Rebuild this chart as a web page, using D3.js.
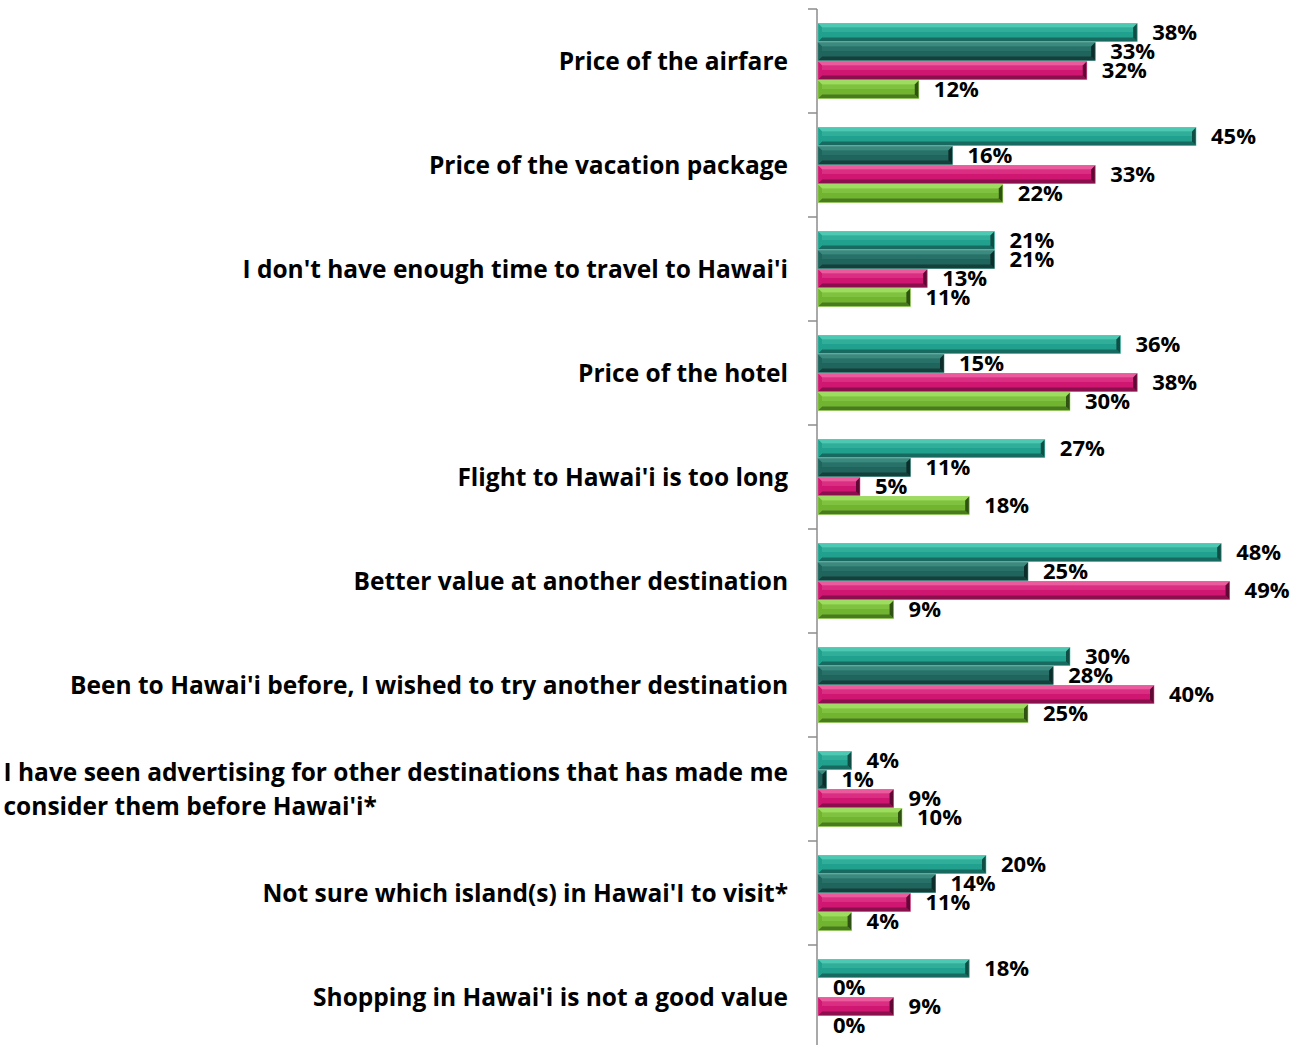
<!DOCTYPE html>
<html><head><meta charset="utf-8">
<script src="https://cdn.jsdelivr.net/npm/d3@7"></script>
<style>
body{margin:0;background:#fff;}
text{font-family:"Open Sans",sans-serif;font-weight:700;fill:#000;}
</style></head>
<body><svg id="c" width="1293" height="1045"></svg>
<script>
const categories = [
  "Price of the airfare",
  "Price of the vacation package",
  "I don't have enough time to travel to Hawai'i",
  "Price of the hotel",
  "Flight to Hawai'i is too long",
  "Better value at another destination",
  "Been to Hawai'i before, I wished to try another destination",
  "I have seen advertising for other destinations that has made me consider them before Hawai'i*",
  "Not sure which island(s) in Hawai'I to visit*",
  "Shopping in Hawai'i is not a good value"
];
const series1 = [38, 45, 21, 36, 27, 48, 30, 4, 20, 18];
const series2 = [33, 16, 21, 15, 11, 25, 28, 1, 14, 0];
const series3 = [32, 33, 13, 38, 5, 49, 40, 9, 11, 9];
const series4 = [12, 22, 11, 30, 18, 9, 25, 10, 4, 0];
const seriesNames = ["s1","s2","s3","s4"];
const allSeries = [series1, series2, series3, series4];
const palette = [
  {base:"#21a08e", light:"#4cc8b3", dark:"#166a5f", end:"#0f4d45"},
  {base:"#1f655d", light:"#3a8a80", dark:"#153f3a", end:"#0c2d29"},
  {base:"#cf1772", light:"#ea5a9d", dark:"#8a0f4c", end:"#5e0833"},
  {base:"#70b430", light:"#9edc5e", dark:"#4a7a1e", end:"#2f5212"}
];

const svg = d3.select("#c");
const x0 = 818;
const x = d3.scaleLinear().domain([0, 50]).range([x0, x0 + 420]);
const y = d3.scaleBand().domain(categories).range([9, 1049]).paddingInner(0.27).paddingOuter(0.135);
const yi = d3.scaleBand().domain(seriesNames).range([0, y.bandwidth()]);

// axis
const axisG = svg.append("g").attr("transform", `translate(${x0 - 1},0)`);
axisG.append("line").attr("x1",0).attr("x2",0).attr("y1",9).attr("y2",1045).attr("stroke","#8c8c8c").attr("stroke-width",1.5);
const step = y.step();
d3.range(categories.length + 1).forEach(i => {
  const yy = 9 + i * step;
  axisG.append("line").attr("x1",-9).attr("x2",0).attr("y1",yy).attr("y2",yy).attr("stroke","#8c8c8c").attr("stroke-width",1.5);
});

// bars
const bev = 4;
categories.forEach((cat, ci) => {
  const g = svg.append("g").attr("transform", `translate(0,${y(cat)})`);
  allSeries.forEach((ser, si) => {
    const v = ser[ci];
    if (v <= 0) return;
    const c = palette[si];
    const bx0 = x(0), bx1 = x(v);
    const by0 = yi(seriesNames[si]) + 0.5, by1 = by0 + yi.bandwidth() - 1;
    const b = Math.min(bev, (bx1 - bx0) / 2);
    const bg = g.append("g");
    bg.append("rect").attr("x", bx0).attr("y", by0).attr("width", bx1 - bx0).attr("height", by1 - by0).attr("fill", c.base);
    bg.append("polygon").attr("points", [[bx0,by0],[bx1,by0],[bx1-b,by0+bev],[bx0+b,by0+bev]].join(" ")).attr("fill", c.light);
    bg.append("polygon").attr("points", [[bx0,by1],[bx1,by1],[bx1-b,by1-bev],[bx0+b,by1-bev]].join(" ")).attr("fill", c.dark);
    bg.append("rect").attr("x", bx0 + b).attr("y", by0 + bev).attr("width", Math.max(0, bx1 - bx0 - 2*b)).attr("height", (by1 - by0 - 2*bev) * 0.45).attr("fill", c.light).attr("opacity", 0.35);
    bg.append("polygon").attr("points", [[bx0,by0],[bx0+b,by0+bev],[bx0+b,by1-bev],[bx0,by1]].join(" ")).attr("fill", c.base).attr("opacity",0.9);
    bg.append("polygon").attr("points", [[bx1,by0],[bx1-b,by0+bev],[bx1-b,by1-bev],[bx1,by1]].join(" ")).attr("fill", c.end);
    bg.append("rect").attr("x", bx0).attr("y", by0).attr("width", bx1 - bx0).attr("height", by1 - by0).attr("fill", "none").attr("stroke", c.light).attr("stroke-width", 0.8).attr("opacity",0.7);
  });
  allSeries.forEach((ser, si) => {
    const v = ser[ci];
    const cy = yi(seriesNames[si]) + yi.bandwidth() / 2;
    g.append("text").attr("x", x(v) + 15).attr("y", cy).attr("dy", "0.35em")
      .style("font-size", "22px").text(v + "%");
  });
});

// category labels
const labelRight = 788;
const labelSize = "24.5px";
categories.forEach(cat => {
  const cy = y(cat) + y.bandwidth() / 2;
  const t = svg.append("text").style("font-size", labelSize);
  if (cat.startsWith("I have seen advertising")) {
    const l1 = "I have seen advertising for other destinations that has made me";
    const l2 = "consider them before Hawai'i*";
    t.attr("text-anchor", "start");
    const tmp = svg.append("text").style("font-size", labelSize).text(l1);
    const w = tmp.node().getComputedTextLength(); tmp.remove();
    const left = labelRight - w;
    t.append("tspan").attr("x", left).attr("y", cy - 17).attr("dy","0.35em").text(l1);
    t.append("tspan").attr("x", left).attr("y", cy + 17).attr("dy","0.35em").text(l2);
  } else {
    t.attr("text-anchor", "end").attr("x", labelRight).attr("y", cy).attr("dy", "0.35em").text(cat);
  }
});
</script></body></html>
